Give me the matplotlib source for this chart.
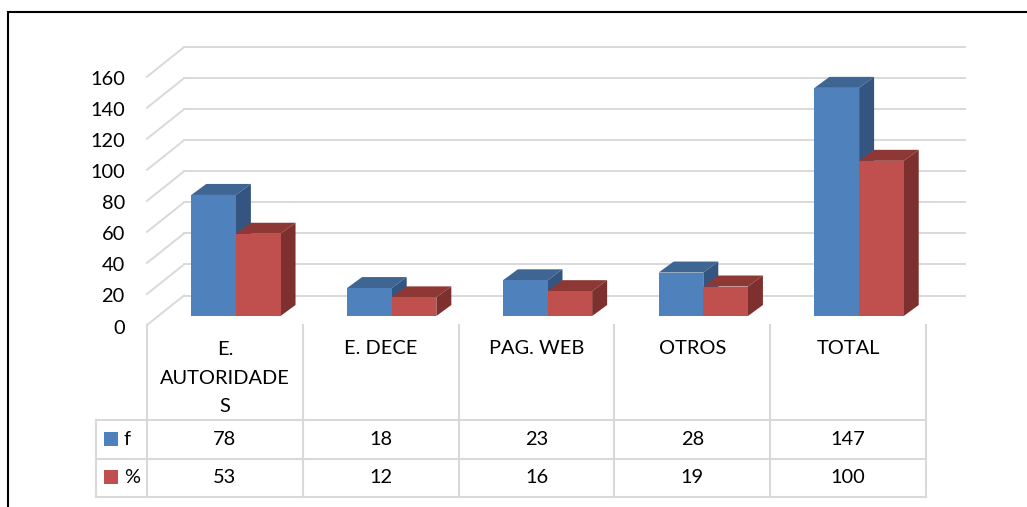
import numpy as np
import matplotlib
matplotlib.use("Agg")
import matplotlib.pyplot as plt
from matplotlib.patches import Polygon
from matplotlib.transforms import Affine2D, IdentityTransform

categories = ["E.\nAUTORIDADE\nS", "E. DECE", "PAG. WEB", "OTROS", "TOTAL"]
series_names = ["f", "%"]
f_values = [78, 18, 23, 28, 147]
pct_values = [53, 12, 16, 19, 100]
y_ticks = [0, 20, 40, 60, 80, 100, 120, 140, 160]

W, H = 1027, 507
BLUE = ("#4F81BD", "#3F6592", "#34557F")
RED = ("#C0504D", "#8E3836", "#7D302E")
GRID = "#D9D9D9"
FS = 14.4

plt.rcParams["font.family"] = ["Lato", "DejaVu Sans"]

fig = plt.figure(figsize=(W / 100, H / 100), dpi=100)


def box(x0, y0, x1, y1):
    # pixel box (y down) to figure fractions
    return [x0 / W, 1 - y1 / H, (x1 - x0) / W, (y1 - y0) / H]


# outer frame of the picture, only top and left show
bg = fig.add_axes([0, 0, 1, 1])
bg.set_xlim(0, W)
bg.set_ylim(H, 0)
bg.axis("off")
bg.plot([7.5, 7.5, W], [H, 11.5, 11.5], color="black", lw=1.5, solid_joinstyle="miter")

# front plane of the 3d chart
ax = fig.add_axes(box(147, 76.7, 926, 325))
ax.set_xlim(0, 5)
ax.set_ylim(0, 160)
ax.patch.set_alpha(0)
for s in ax.spines.values():
    s.set_visible(False)
ax.set_xticks([])
ax.set_yticks(y_ticks)
ax.tick_params(axis="y", length=0, pad=16, labelsize=FS)
for lab in ax.get_yticklabels():
    lab.set_transform(lab.get_transform() + Affine2D().translate(0, -1.5))


def shifted(dx, dy):
    return ax.transData + Affine2D().translate(dx, dy)


# walls: diagonal side then the line along the back
back = shifted(37, 29.5)
for v in y_ticks:
    x_front, y_front = ax.transData.transform((0, v))
    x_back, y_back = back.transform((0, v))
    ax.plot([x_front, x_back], [y_front, y_back], color=GRID, lw=1.4,
            transform=IdentityTransform(), clip_on=False, zorder=1)
    ax.plot([0, 5.01], [v, v], color=GRID, lw=1.4, transform=back, clip_on=False, zorder=1)

# bars, front face shifted into the floor, depth drawn as polygons
bw = 0.2865
front = (11, 9)
depth = (15, 11)
for j, (vals, cols) in enumerate(zip([f_values, pct_values], [BLUE, RED])):
    for i, v in enumerate(vals):
        x0 = i + 0.5 - bw + j * bw
        x1 = x0 + bw
        tr = shifted(*front)
        tr2 = tr + Affine2D().translate(*depth)
        a, b = tr.transform([(x0, v), (x1, v)])
        c, d = tr2.transform([(x1, v), (x0, v)])
        e, g = tr.transform([(x1, 0), (x1, v)])
        k, m = tr2.transform([(x1, v), (x1, 0)])
        ax.add_patch(Polygon([a, b, c, d], closed=True, color=cols[1], lw=0,
                             transform=IdentityTransform(), clip_on=False, zorder=3 + 2 * j))
        ax.add_patch(Polygon([g, k, m, e], closed=True, color=cols[2], lw=0,
                             transform=IdentityTransform(), clip_on=False, zorder=3 + 2 * j))
        ax.bar(x0, v, bw, align="edge", color=cols[0], transform=tr, clip_on=False, zorder=4 + 2 * j)

# data table under the chart, y in pixels
tab = fig.add_axes(box(147 - 51, 325, 926, 497))
tab.set_xlim(-51 / 155.8, 5)
tab.set_ylim(497, 325)
tab.axis("off")
tab.patch.set_alpha(0)
row_lines = [420, 459, 497]
row_text = [439.5, 477.5]
for y in row_lines:
    tab.plot([-51 / 155.8, 5], [y, y], color=GRID, lw=1.5, clip_on=False)
tab.plot([-51 / 155.8] * 2, [420, 497], color=GRID, lw=1.5, clip_on=False)
for i in range(6):
    tab.plot([i, i], [325, 497], color=GRID, lw=1.5, clip_on=False)

for i, name in enumerate(categories):
    tab.text(i + 0.5, 378 if "\n" in name else 348.5, name, ha="center", va="center",
             fontsize=FS, linespacing=1.85)
for j, (vals, name, cols) in enumerate(zip([f_values, pct_values], series_names, [BLUE, RED])):
    for i, v in enumerate(vals):
        tab.text(i + 0.5, row_text[j], str(v), ha="center", va="center", fontsize=FS)
    tab.text(-23 / 155.8, row_text[j], name, ha="left", va="center", fontsize=FS)
    tab.fill_between([-43 / 155.8, -29 / 155.8], row_text[j] - 7.5, row_text[j] + 6.5, color=cols[0], lw=0)

fig.savefig("out.png", dpi=100)
